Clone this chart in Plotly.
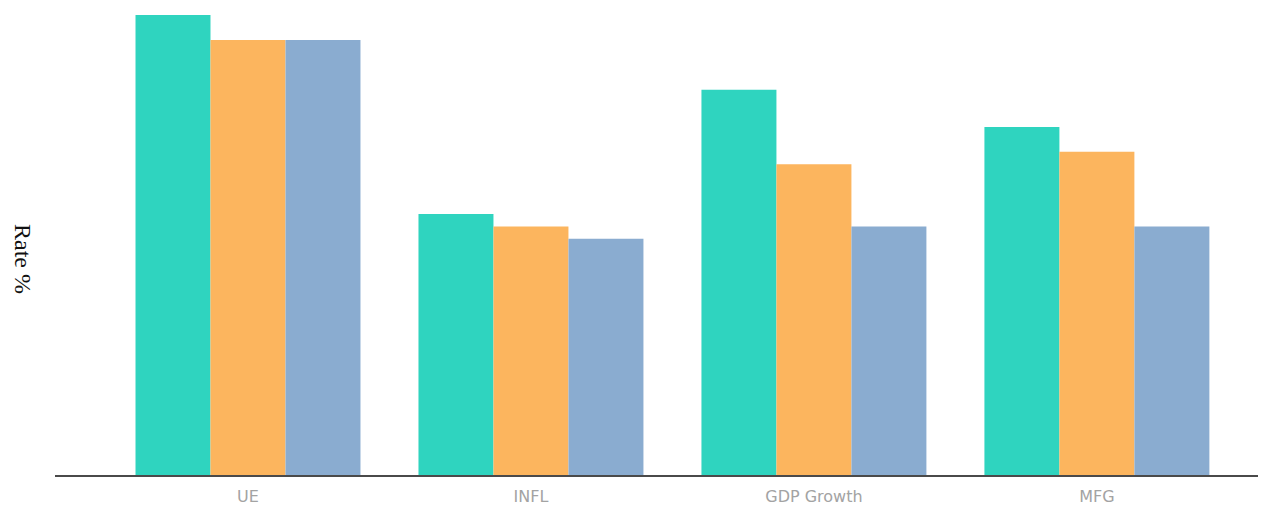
import plotly.graph_objects as go

categories = ["UE", "INFL", "GDP Growth", "MFG"]
series_names = ["Series 1", "Series 2", "Series 3"]
series_1 = [3.7, 2.1, 3.1, 2.8]
series_2 = [3.5, 2.0, 2.5, 2.6]
series_3 = [3.5, 1.9, 2.0, 2.0]
colors = ["#2fd4bf", "#fcb55e", "#8aacd0"]

fig = go.Figure()
for name, vals, col in zip(series_names, [series_1, series_2, series_3], colors):
    fig.add_trace(go.Bar(x=categories, y=vals, name=name,
                         marker=dict(color=col, line=dict(width=0))))

fig.update_layout(
    width=1266, height=508,
    margin=dict(l=47, r=11, t=0, b=41),
    paper_bgcolor="white", plot_bgcolor="white",
    barmode="group", bargap=0.205, bargroupgap=0,
    showlegend=False,
    xaxis=dict(range=[-0.682, 3.587], showline=True, linecolor="#4a4a4a", linewidth=1.5,
               showgrid=False, ticks="", ticklabelstandoff=6,
               tickfont=dict(family="DejaVu Sans, sans-serif", size=16, color="#a3a3a3"),
               zeroline=False),
    yaxis=dict(range=[0, 3.757], showgrid=False, showticklabels=False,
               zeroline=False, showline=False),
    annotations=[dict(text="Rate %", textangle=90, xref="paper", yref="paper",
                      x=0, y=0.4625, xshift=-32, xanchor="center", yanchor="middle",
                      showarrow=False, borderpad=0,
                      font=dict(family="Liberation Serif, Times New Roman, serif",
                                size=24, color="#111111"))],
)

fig.write_html("out.html")
